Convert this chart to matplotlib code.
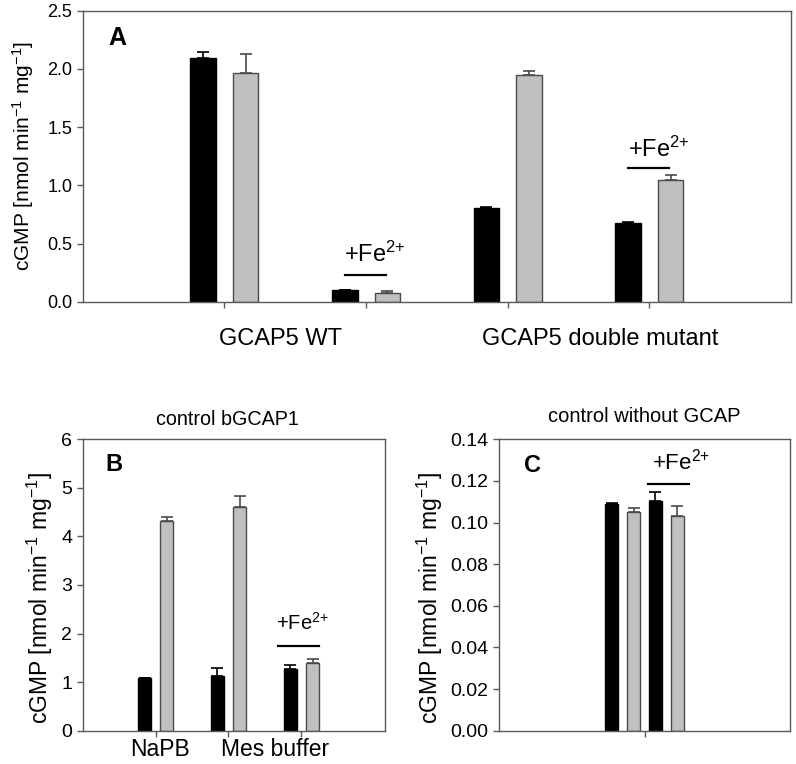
import matplotlib
matplotlib.use("Agg")
import matplotlib.pyplot as plt
import numpy as np

plt.rcParams['font.family'] = ['Liberation Sans', 'DejaVu Sans']
plt.rcParams['mathtext.fontset'] = 'custom'
plt.rcParams['mathtext.rm'] = 'Liberation Sans'
plt.rcParams['mathtext.it'] = 'Liberation Sans'
plt.rcParams['mathtext.default'] = 'regular'

# ---------------- data ----------------
# Panel A: GCAP5 WT (groups 1,2) and double mutant (groups 3,4); groups 2 and 4 are +Fe2+
a_black = [2.09, 0.097, 0.805, 0.673]
a_black_err = [0.058, 0.003, 0.011, 0.009]
a_gray = [1.967, 0.072, 1.947, 1.045]
a_gray_err = [0.161, 0.022, 0.032, 0.040]
a_group_labels = ["GCAP5 WT", "GCAP5 double mutant"]

# Panel B: control bGCAP1 (NaPB, Mes buffer, Mes buffer + Fe2+)
b_black = [1.09, 1.125, 1.277]
b_black_err = [0.0, 0.175, 0.073]
b_gray = [4.32, 4.60, 1.386]
b_gray_err = [0.09, 0.23, 0.10]
b_labels = ["NaPB", "Mes buffer"]

# Panel C: control without GCAP (black, gray, black +Fe, gray +Fe)
c_vals = [0.1088, 0.1051, 0.1104, 0.1033]
c_err = [0.0004, 0.0017, 0.0043, 0.0045]

ylabel = "cGMP [nmol min$^{-1}$ mg$^{-1}$]"
fe_label = "+Fe$^{2{+}}$"

BLACK = "#000000"
GRAY = "#c0c0c0"
EDGE_G = "#4a4a4a"
SPINE = "#5a5a5a"

fig = plt.figure(figsize=(7.96, 7.64), dpi=100)

def style(ax, fs):
    for s in ax.spines.values():
        s.set_color(SPINE)
        s.set_linewidth(1.0)
    ax.tick_params(axis='both', direction='out', length=4, width=1, color=SPINE, labelsize=fs)
    ax.tick_params(axis='x', labelbottom=False)

def bars(ax, x, vals, errs, color, edge, ecolor, w):
    ax.bar(x, vals, width=w, color=color, edgecolor=edge, linewidth=1.0, zorder=2)
    ax.errorbar(x, vals, yerr=[np.zeros(len(vals)), errs], fmt='none', ecolor=ecolor,
                elinewidth=1.2, capsize=4, capthick=1.2, zorder=1)

# ---------------- Panel A ----------------
axA = fig.add_axes([0.1039, 0.6051, 0.8898, 0.3809])
xa = np.arange(1, 5)
bars(axA, xa - 0.15, a_black, a_black_err, BLACK, BLACK, BLACK, 0.18)
bars(axA, xa + 0.15, a_gray, a_gray_err, GRAY, EDGE_G, EDGE_G, 0.18)
axA.set_xlim(0, 5)
axA.set_ylim(0, 2.5)
axA.set_xticks(xa)
axA.set_yticks(np.arange(0, 2.51, 0.5))
axA.set_yticklabels([f"{v:.1f}" for v in np.arange(0, 2.51, 0.5)])
style(axA, 13)
tA = axA.get_xaxis_transform()
axA.text(1.393, -0.149, a_group_labels[0], transform=tA, ha='center', va='baseline', fontsize=17)
axA.text(3.653, -0.149, a_group_labels[1], transform=tA, ha='center', va='baseline', fontsize=17)
axA.text(0.0357, 0.882, "A", transform=axA.transAxes, fontsize=18, fontweight='bold', va='baseline')
for gx, ly, ty in [(2, 0.227, 0.344), (4, 1.151, 1.243)]:
    axA.plot([gx - 0.15, gx + 0.14], [ly, ly], color='black', lw=1.6)
    axA.text(gx + 0.065, ty, fe_label, ha='center', va='baseline', fontsize=17)
fig.text(0.0289, 0.7965, ylabel, rotation=90, ha='center', va='center', fontsize=15)

# ---------------- Panel B ----------------
axB = fig.add_axes([0.1039, 0.0436, 0.3798, 0.3814])
xb = np.arange(1, 4)
bars(axB, xb - 0.15, b_black, b_black_err, BLACK, BLACK, BLACK, 0.18)
bars(axB, xb + 0.155, b_gray, b_gray_err, GRAY, EDGE_G, EDGE_G, 0.18)
axB.set_xlim(0, 4.15)
axB.set_ylim(0, 6)
axB.set_xticks(xb)
axB.set_yticks(range(0, 7))
style(axB, 14)
tB = axB.get_xaxis_transform()
axB.text(1.06, -0.087, b_labels[0], transform=tB, ha='center', va='baseline', fontsize=16.5)
axB.text(2.64, -0.087, b_labels[1], transform=tB, ha='center', va='baseline', fontsize=16.5)
axB.text(0.48, 1.049, "control bGCAP1", transform=axB.transAxes, ha='center', va='baseline', fontsize=14.2)
axB.text(0.074, 0.892, "B", transform=axB.transAxes, fontsize=17, fontweight='bold', va='baseline')
axB.plot([3 - 0.316, 3 + 0.242], [1.743, 1.743], color='black', lw=1.6)
axB.text(3.02, 2.07, fe_label, ha='center', va='baseline', fontsize=14.5)
fig.text(0.0503, 0.2169, ylabel, rotation=90, ha='center', va='center', fontsize=16.5)

# ---------------- Panel C ----------------
axC = fig.add_axes([0.6269, 0.0436, 0.3656, 0.3814])
xc = 1 + np.array([-0.225, -0.075, 0.075, 0.225])
c_colors = [BLACK, GRAY, BLACK, GRAY]
c_edges = [BLACK, EDGE_G, BLACK, EDGE_G]
for xi, v, e, col, ed in zip(xc, c_vals, c_err, c_colors, c_edges):
    bars(axC, [xi], [v], [e], col, ed, ed, 0.09)
axC.set_xlim(0, 2)
axC.set_ylim(0, 0.14)
axC.set_xticks([1])
yc = np.arange(0, 0.1401, 0.02)
axC.set_yticks(yc)
axC.set_yticklabels([f"{v:.2f}" for v in yc])
style(axC, 14)
axC.text(0.5, 1.06, "control without GCAP", transform=axC.transAxes, ha='center', va='baseline', fontsize=14.5)
axC.text(0.086, 0.889, "C", transform=axC.transAxes, fontsize=17, fontweight='bold', va='baseline')
axC.plot([1.027, 1.309], [0.1185, 0.1185], color='black', lw=1.6)
axC.text(1.25, 0.1257, fe_label, ha='center', va='baseline', fontsize=16)
fig.text(0.5402, 0.2169, ylabel, rotation=90, ha='center', va='center', fontsize=16.5)

fig.savefig("out.png", dpi=100)
